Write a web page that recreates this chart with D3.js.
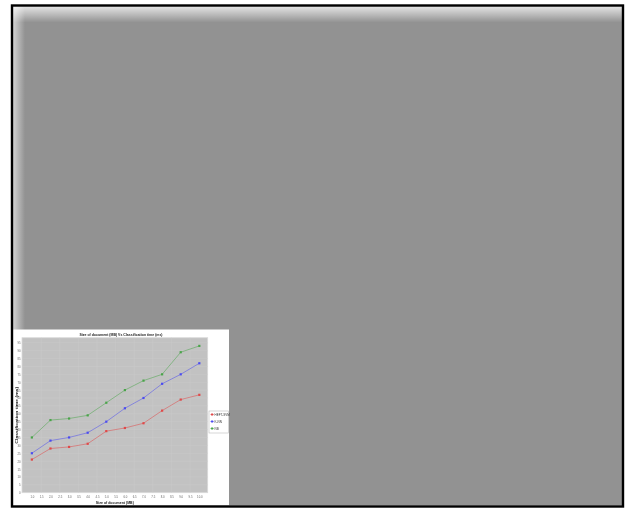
<!DOCTYPE html>
<html>
<head>
<meta charset="utf-8">
<script src="https://cdn.jsdelivr.net/npm/d3@7/dist/d3.min.js"></script>
<style>
  html, body { margin: 0; padding: 0; background: #ffffff; }
  svg { display: block; }
  text { font-family: "Liberation Sans Narrow", "Liberation Sans", "DejaVu Sans Condensed", sans-serif; }
</style>
</head>
<body>
<svg id="page" width="625" height="508"></svg>
<script>
// Document size in MB and classification time in ms for each method
const sizes = [1, 2, 3, 4, 5, 6, 7, 8, 9, 10];
const seriesNames = ["HEFT-SVM", "K-NN", "NB"];
const seriesColors = ["#e04848", "#4c4cf0", "#4aa44a"];
const heftSvm = [21, 28, 29, 31, 39, 41, 44, 52, 59, 62];
const knn = [25, 33, 35, 38, 45, 53.5, 60, 69, 75, 82];
const nb = [35, 46, 47, 49, 57, 65, 71, 75, 89, 93];
const xTickValues = d3.range(1, 10.01, 0.5);
const yTickValues = d3.range(0, 96, 5);
const chartTitle = "Size of document (MB) Vs Classification time (ms)";
const xTitle = "Size of document (MB)";
const yTitle = "Classification time (ms)";

const series = [heftSvm, knn, nb].map((vals, i) => ({
  name: seriesNames[i],
  color: seriesColors[i],
  points: vals.map((v, j) => ({ x: sizes[j], y: v }))
}));

const svg = d3.select("#page");
const defs = svg.append("defs");

// soft light edges of the grey panel
const gTop = defs.append("linearGradient").attr("id", "glowTop")
  .attr("x1", 0).attr("y1", 0).attr("x2", 0).attr("y2", 1);
gTop.append("stop").attr("offset", "0%").attr("stop-color", "#fff").attr("stop-opacity", 0.75);
gTop.append("stop").attr("offset", "100%").attr("stop-color", "#fff").attr("stop-opacity", 0);
const gLeft = defs.append("linearGradient").attr("id", "glowLeft")
  .attr("x1", 0).attr("y1", 0).attr("x2", 1).attr("y2", 0);
gLeft.append("stop").attr("offset", "0%").attr("stop-color", "#fff").attr("stop-opacity", 0.6);
gLeft.append("stop").attr("offset", "100%").attr("stop-color", "#fff").attr("stop-opacity", 0);

defs.append("filter").attr("id", "soft")
  .attr("x", "-5%").attr("y", "-5%").attr("width", "110%").attr("height", "110%")
  .append("feGaussianBlur").attr("stdDeviation", 0.35);

// grey panel with its black frame
svg.append("rect").attr("x", 13).attr("y", 6.5).attr("width", 609).attr("height", 499)
  .attr("fill", "#929292");
svg.append("rect").attr("x", 13).attr("y", 6.5).attr("width", 609).attr("height", 16)
  .attr("fill", "url(#glowTop)");
svg.append("rect").attr("x", 13).attr("y", 6.5).attr("width", 12).attr("height", 499)
  .attr("fill", "url(#glowLeft)");

// white card holding the chart
svg.append("rect").attr("x", 13).attr("y", 329.5).attr("width", 216).attr("height", 176)
  .attr("fill", "#ffffff");

svg.append("rect").attr("x", 12).attr("y", 5.5).attr("width", 611).attr("height", 501)
  .attr("fill", "none").attr("stroke", "#000").attr("stroke-width", 2.4);

// chart
const plot = { left: 22, right: 207.7, top: 337.7, bottom: 492.7 };
const x = d3.scaleLinear().domain([0.47, 10.45]).range([plot.left, plot.right]);
const y = d3.scaleLinear().domain([0, 98.2]).range([plot.bottom, plot.top]);

const chart = svg.append("g").attr("filter", "url(#soft)");

chart.append("rect")
  .attr("x", plot.left).attr("y", plot.top)
  .attr("width", plot.right - plot.left).attr("height", plot.bottom - plot.top)
  .attr("fill", "#c2c2c2").attr("stroke", "#dadada").attr("stroke-width", 0.8);

// grid lines
chart.append("g")
  .selectAll("line").data(yTickValues.slice(1)).join("line")
  .attr("x1", plot.left).attr("x2", plot.right)
  .attr("y1", d => y(d)).attr("y2", d => y(d))
  .attr("stroke", "#cbcbcb").attr("stroke-width", 0.5);
chart.append("g")
  .selectAll("line").data(xTickValues.filter((d, i) => i % 2 === 1)).join("line")
  .attr("x1", d => x(d)).attr("x2", d => x(d))
  .attr("y1", plot.top).attr("y2", plot.bottom)
  .attr("stroke", "#cbcbcb").attr("stroke-width", 0.5);

// axes (labels only)
const yAxis = chart.append("g").attr("transform", `translate(${plot.left - 1.5},0)`)
  .call(d3.axisLeft(y).tickValues(yTickValues).tickSize(0).tickPadding(0).tickFormat(d3.format("d")));
yAxis.select(".domain").remove();
yAxis.selectAll("text").attr("font-size", 2.8).attr("fill", "#666").attr("dy", "0.35em");

const xAxis = chart.append("g").attr("transform", `translate(0,${plot.bottom + 4})`)
  .call(d3.axisBottom(x).tickValues(xTickValues).tickSize(0).tickPadding(0).tickFormat(d3.format(".1f")));
xAxis.select(".domain").remove();
xAxis.selectAll("text").attr("font-size", 2.8).attr("fill", "#666").attr("dy", "0.35em");

// titles
chart.append("text").attr("x", 121).attr("y", 335.5).attr("text-anchor", "middle")
  .attr("font-size", 4.4).attr("font-weight", "bold").attr("fill", "#222")
  .attr("textLength", 83).attr("lengthAdjust", "spacingAndGlyphs").text(chartTitle);
chart.append("text").attr("x", (plot.left + plot.right) / 2).attr("y", 503.5).attr("text-anchor", "middle")
  .attr("font-size", 4.4).attr("font-weight", "bold").attr("fill", "#222")
  .attr("textLength", 38).attr("lengthAdjust", "spacingAndGlyphs").text(xTitle);
chart.append("text")
  .attr("transform", `translate(17.5,${(plot.top + plot.bottom) / 2}) rotate(-90)`)
  .attr("text-anchor", "middle")
  .attr("font-size", 4.2).attr("font-weight", "bold").attr("fill", "#222")
  .attr("textLength", 57).attr("lengthAdjust", "spacingAndGlyphs").text(yTitle);

// lines and markers
const line = d3.line().x(d => x(d.x)).y(d => y(d.y));
const sg = chart.selectAll("g.series").data(series).join("g").attr("class", "series");
sg.append("path")
  .attr("d", d => line(d.points))
  .attr("fill", "none").attr("stroke", d => d.color).attr("stroke-width", 0.7).attr("stroke-opacity", 0.75);
sg.selectAll("rect").data(d => d.points.map(p => ({ ...p, color: d.color }))).join("rect")
  .attr("x", d => x(d.x) - 1.1).attr("y", d => y(d.y) - 1.1)
  .attr("width", 2.2).attr("height", 2.2).attr("fill", d => d.color);

// legend
const lg = chart.append("g");
lg.append("rect").attr("x", 209).attr("y", 411).attr("width", 19.5).attr("height", 22)
  .attr("fill", "#fff").attr("stroke", "#bbb").attr("stroke-width", 0.6);
const items = lg.selectAll("g.item").data(series).join("g").attr("class", "item")
  .attr("transform", (d, i) => `translate(210.5,${414.5 + i * 7})`);
items.append("line").attr("x1", 0).attr("x2", 3.2).attr("y1", 0).attr("y2", 0)
  .attr("stroke", d => d.color).attr("stroke-width", 0.7);
items.append("rect").attr("x", 0.6).attr("y", -1).attr("width", 2).attr("height", 2)
  .attr("fill", d => d.color);
items.append("text").attr("x", 4).attr("y", 0).attr("dy", "0.35em")
  .attr("font-size", 3).attr("fill", "#333").text(d => d.name);
</script>
</body>
</html>
